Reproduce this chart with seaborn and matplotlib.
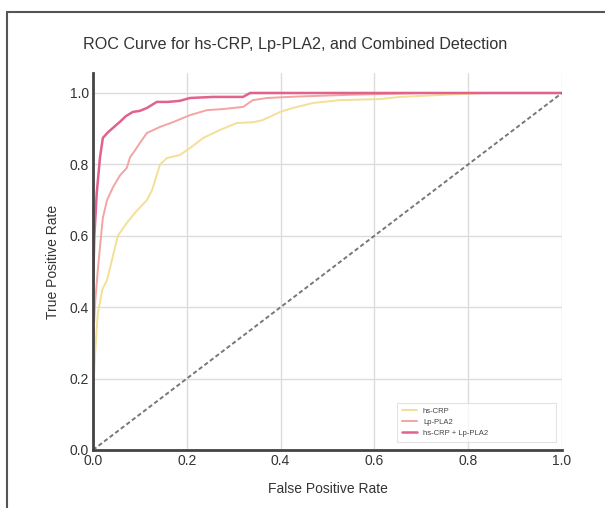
import matplotlib
matplotlib.use("Agg")
import matplotlib.pyplot as plt
import seaborn as sns
import pandas as pd
from matplotlib.lines import Line2D

# ---- data ----
series_names = ["hs-CRP", "Lp-PLA2", "hs-CRP + Lp-PLA2"]

crp_fpr = [0, 0, 0.005, 0.01, 0.02, 0.03, 0.04, 0.053, 0.072, 0.09, 0.115, 0.126, 0.143,
           0.158, 0.185, 0.207, 0.235, 0.27, 0.307, 0.341, 0.362, 0.399, 0.426, 0.469,
           0.527, 0.612, 0.655, 0.75, 0.84, 1.0]
crp_tpr = [0, 0.15, 0.28, 0.38, 0.45, 0.476, 0.53, 0.6, 0.636, 0.665, 0.70, 0.728, 0.80,
           0.818, 0.826, 0.846, 0.874, 0.896, 0.916, 0.918, 0.924, 0.947, 0.958, 0.972,
           0.98, 0.983, 0.989, 0.995, 1.0, 1.0]

pla_fpr = [0, 0, 0.005, 0.01, 0.015, 0.021, 0.03, 0.043, 0.058, 0.072, 0.079, 0.09, 0.1,
           0.115, 0.143, 0.17, 0.207, 0.243, 0.277, 0.32, 0.341, 0.371, 0.435, 0.55, 0.7, 1.0]
pla_tpr = [0, 0.3, 0.42, 0.5, 0.57, 0.65, 0.7, 0.737, 0.77, 0.79, 0.82, 0.84, 0.86,
           0.888, 0.905, 0.918, 0.938, 0.952, 0.955, 0.961, 0.98, 0.986, 0.99, 0.995, 1.0, 1.0]

comb_fpr = [0, 0, 0.003, 0.008, 0.015, 0.021, 0.032, 0.045, 0.058, 0.07, 0.085, 0.1,
            0.115, 0.136, 0.16, 0.185, 0.207, 0.256, 0.32, 0.335, 0.5, 1.0]
comb_tpr = [0, 0.45, 0.6, 0.72, 0.82, 0.874, 0.89, 0.905, 0.92, 0.935, 0.947, 0.95,
            0.958, 0.975, 0.975, 0.978, 0.986, 0.989, 0.989, 1.0, 1.0, 1.0]

diag = [0.0, 1.0]
ticks = [0.0, 0.2, 0.4, 0.6, 0.8, 1.0]

colors = ["#f3df95", "#f2a5a2", "#e1628c"]
widths = [1.4, 1.4, 1.8]

sns.set_theme(style="whitegrid")
plt.rcParams["font.family"] = ["Liberation Sans", "DejaVu Sans"]

fig = plt.figure(figsize=(6.05, 5.08), dpi=100)
ax = fig.add_axes([0.1537, 0.1142, 0.7752, 0.7414])

data = [(crp_fpr, crp_tpr), (pla_fpr, pla_tpr), (comb_fpr, comb_tpr)]
for name, (fx, ty), c, w in zip(series_names, data, colors, widths):
    df = pd.DataFrame({"fpr": fx, "tpr": ty})
    sns.lineplot(data=df, x="fpr", y="tpr", ax=ax, color=c, linewidth=w,
                 label=name, estimator=None, sort=False)

sns.lineplot(x=diag, y=diag, ax=ax, color="#777777", linewidth=1.4,
             linestyle=(0, (2.2, 1.4)), estimator=None, sort=False)

ax.set_xlim(0, 1.0)
ax.set_ylim(0, 1.055)
ax.set_xticks(ticks)
ax.set_yticks(ticks)
ax.set_xticklabels([f"{t:.1f}" for t in ticks])
ax.set_yticklabels([f"{t:.1f}" for t in ticks])
ax.grid(True, color="#dcdcdc", linewidth=1.0)
ax.set_facecolor("white")

for s in ["top", "right"]:
    ax.spines[s].set_visible(False)
for s in ["left", "bottom"]:
    ax.spines[s].set_visible(True)
    ax.spines[s].set_color("#444444")
    ax.spines[s].set_linewidth(2.0)

ax.tick_params(axis="both", direction="in", length=4, width=1.2, color="#333333",
               labelsize=10, labelcolor="#333333", pad=3)

fig.text(295 / 605, 1 - 45 / 508, "ROC Curve for hs-CRP, Lp-PLA2, and Combined Detection",
         fontsize=11.6, color="#333333", ha="center", va="center")
ax.set_xlabel("False Positive Rate", fontsize=10, color="#333333", labelpad=10)
ax.set_ylabel("True Positive Rate", fontsize=10, color="#333333", labelpad=7)

leg = ax.legend(loc="lower left", fontsize=5.5, frameon=True, handlelength=2.0,
                borderpad=0.6, labelspacing=0.5, fancybox=False, mode="expand",
                bbox_to_anchor=(0.64, 0.012, 0.355, 0.11))
leg.get_frame().set_edgecolor("#dddddd")
leg.get_frame().set_linewidth(0.8)
for t in leg.get_texts():
    t.set_color("#444444")

# figure border (top and left visible)
fig.add_artist(Line2D([7 / 605, 7 / 605], [0, 1 - 12 / 508], transform=fig.transFigure,
                      color="#555555", linewidth=1.5))
fig.add_artist(Line2D([7 / 605, 1], [1 - 12 / 508, 1 - 12 / 508], transform=fig.transFigure,
                      color="#555555", linewidth=1.5))

fig.savefig("out.png", dpi=100, facecolor="white")
